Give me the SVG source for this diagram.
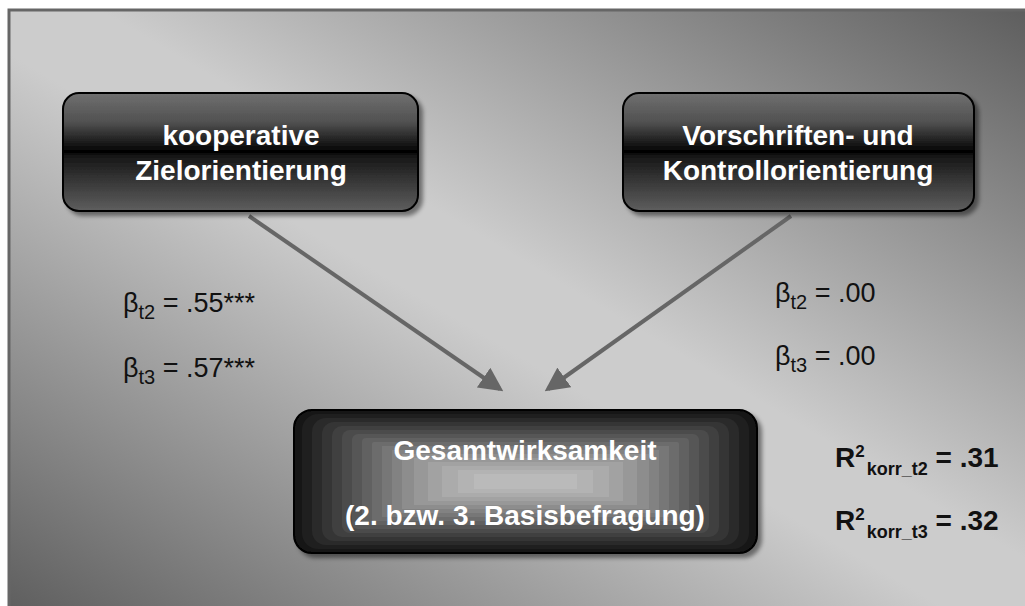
<svg xmlns="http://www.w3.org/2000/svg" width="1025" height="606" viewBox="0 0 1025 606">
<defs>
<linearGradient id="bg" gradientUnits="userSpaceOnUse" x1="246" y1="752" x2="778" y2="-146">
<stop offset="0" stop-color="#5e5e5e"/>
<stop offset="0.46" stop-color="#cccccc"/>
<stop offset="0.54" stop-color="#cccccc"/>
<stop offset="1" stop-color="#5c5c5c"/>
</linearGradient>
<linearGradient id="gloss" x1="0" y1="0" x2="0" y2="1">
<stop offset="0" stop-color="#707070"/>
<stop offset="0.25" stop-color="#505050"/>
<stop offset="0.47" stop-color="#0c0c0c"/>
<stop offset="0.5" stop-color="#000"/>
<stop offset="0.53" stop-color="#161616"/>
<stop offset="1" stop-color="#5e5e5e"/>
</linearGradient>
<filter id="sh" x="-10%" y="-10%" width="130%" height="140%">
<feDropShadow dx="4" dy="4" stdDeviation="2" flood-color="#000" flood-opacity="0.45"/>
</filter>
<marker id="ah" markerWidth="6" markerHeight="6" refX="5" refY="3" orient="auto" markerUnits="strokeWidth">
<path d="M0,0 L6,3 L0,6 Z" fill="#666"/>
</marker>
<style>
.nt{font-family:"Liberation Sans",Arial,sans-serif;font-weight:bold;font-size:28px;fill:#fff;text-anchor:middle}
.lb{font-family:"Liberation Sans",Arial,sans-serif;font-size:27px;fill:#111}
.rb{font-family:"Liberation Sans",Arial,sans-serif;font-weight:bold;font-size:28px;fill:#111}
.box{stroke:#000;stroke-width:2}
</style>
</defs>
<rect x="9" y="10" width="1020" height="600" fill="url(#bg)" stroke="#666" stroke-width="3"/>

<g id="connectors" fill="none" stroke="#666" stroke-width="4">
<line x1="249" y1="216" x2="500" y2="389" marker-end="url(#ah)"/>
<line x1="791" y1="216" x2="548" y2="389" marker-end="url(#ah)"/>
</g>

<g id="node-kooperativ">
<rect class="box" x="63" y="93" width="355" height="118" rx="16" fill="url(#gloss)" filter="url(#sh)"/>
<text class="nt" x="241" y="145">kooperative</text>
<text class="nt" x="241" y="180">Zielorientierung</text>
</g>

<g id="node-vorschriften">
<rect class="box" x="623" y="93" width="351" height="118" rx="16" fill="url(#gloss)" filter="url(#sh)"/>
<text class="nt" x="798" y="145">Vorschriften- und</text>
<text class="nt" x="798" y="180">Kontrollorientierung</text>
</g>

<g id="node-gesamt">
<rect x="294" y="410" width="463" height="143" rx="18" fill="#141414" stroke="#000" stroke-width="2" filter="url(#sh)"/>
<rect x="302" y="414" width="447" height="135" rx="16" fill="#1f1f1f"/>
<rect x="312" y="418" width="427" height="127" rx="14" fill="#2a2a2a"/>
<rect x="322" y="422" width="407" height="119" rx="12" fill="#353535"/>
<rect x="332" y="426" width="387" height="111" rx="10" fill="#404040"/>
<rect x="342" y="430" width="367" height="103" rx="8" fill="#4b4b4b"/>
<rect x="352" y="434" width="347" height="95" rx="6" fill="#565656"/>
<rect x="362" y="438" width="327" height="87" rx="4" fill="#616161"/>
<rect x="372" y="442" width="307" height="79" rx="2" fill="#6c6c6c"/>
<rect x="382" y="446" width="287" height="71" fill="#777"/>
<rect x="392" y="450" width="267" height="63" fill="#828282"/>
<rect x="402" y="454" width="247" height="55" fill="#8d8d8d"/>
<rect x="414" y="458" width="223" height="47" fill="#989898"/>
<rect x="428" y="462" width="195" height="39" fill="#a2a2a2"/>
<rect x="442" y="466" width="167" height="31" fill="#ababab"/>
<rect x="458" y="470" width="135" height="23" fill="#b3b3b3"/>
<rect x="474" y="474" width="103" height="15" fill="#bababa"/>
<text class="nt" x="525" y="460">Gesamtwirksamkeit</text>
<text class="nt" x="525" y="525">(2. bzw. 3. Basisbefragung)</text>
</g>

<g id="labels-left">
<text class="lb" x="123" y="312">β<tspan font-size="20" dy="7">t2</tspan><tspan dy="-7"> = .55***</tspan></text>
<text class="lb" x="123" y="377">β<tspan font-size="20" dy="7">t3</tspan><tspan dy="-7"> = .57***</tspan></text>
</g>

<g id="labels-right">
<text class="lb" x="775" y="302">β<tspan font-size="20" dy="7">t2</tspan><tspan dy="-7"> = .00</tspan></text>
<text class="lb" x="775" y="365">β<tspan font-size="20" dy="7">t3</tspan><tspan dy="-7"> = .00</tspan></text>
</g>

<g id="labels-r2">
<text class="rb" x="835" y="467">R<tspan font-size="17" dy="-10">2</tspan><tspan font-size="18" dx="2" dy="18">korr_t2</tspan><tspan dy="-8"> = .31</tspan></text>
<text class="rb" x="835" y="530">R<tspan font-size="17" dy="-10">2</tspan><tspan font-size="18" dx="2" dy="18">korr_t3</tspan><tspan dy="-8"> = .32</tspan></text>
</g>
</svg>
